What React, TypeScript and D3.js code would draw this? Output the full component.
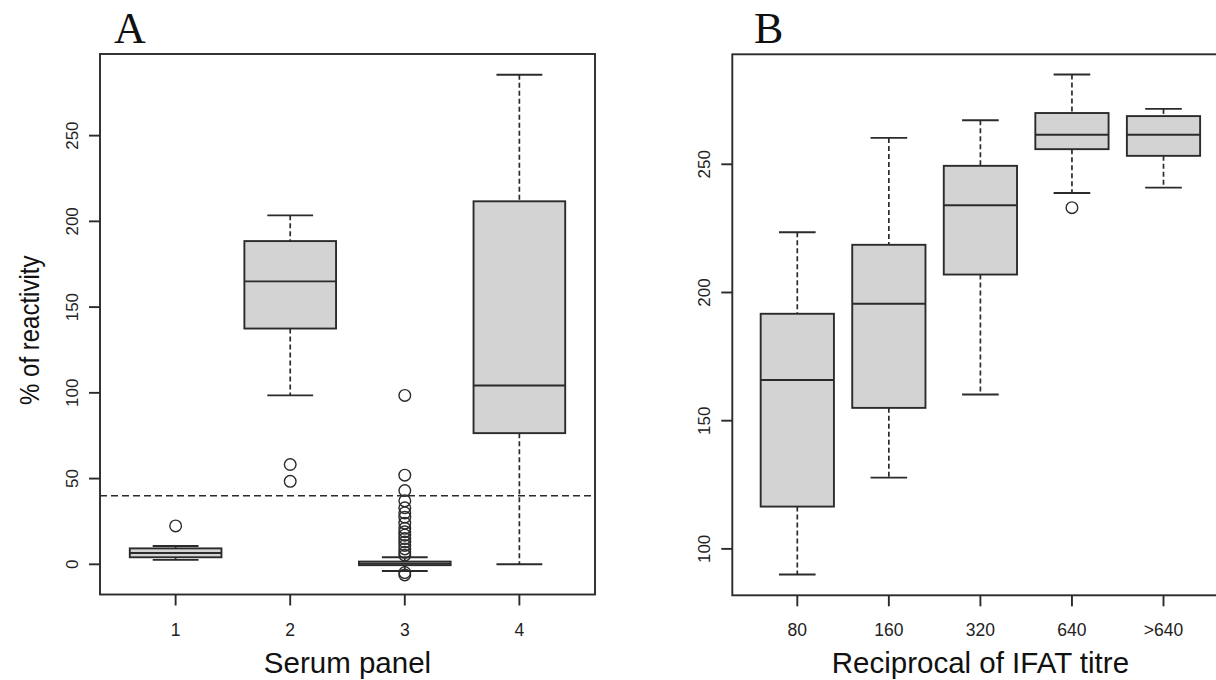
import React from "react";
import * as d3 from "d3";

// ---------- Data ----------
// Panel A: serum panels
const panelACategories = ["1", "2", "3", "4"];
const panelALowWhisker = [2.6, 98.5, -3.9, 0];
const panelAQ1 = [4.1, 137.5, -0.5, 76.5];
const panelAMedian = [6.6, 165, 0.4, 104.3];
const panelAQ3 = [9.3, 188.5, 1.6, 211.7];
const panelAHighWhisker = [10.7, 203.5, 4.1, 285.5];
const panelAOutliers: number[][] = [
  [22.4],
  [58.2, 48.4],
  [98.5, 52, 43, 37, 33, 30, 27.5, 24, 21, 19, 17, 15, 13, 11, 9, 7, 5.3, -4.8, -6.2],
  [],
];
const panelAYTicks = [0, 50, 100, 150, 200, 250];
const cutoffLine = 40;

// Panel B: reciprocal of IFAT titre
const panelBCategories = ["80", "160", "320", "640", ">640"];
const panelBLowWhisker = [90.0, 127.8, 160.2, 238.8, 240.9];
const panelBQ1 = [116.5, 155.0, 207.0, 255.9, 253.3];
const panelBMedian = [165.9, 195.6, 234.0, 261.5, 261.5];
const panelBQ3 = [191.7, 218.6, 249.4, 270.0, 268.8];
const panelBHighWhisker = [223.5, 260.3, 267.2, 285.0, 271.6];
const panelBOutliers: number[][] = [[], [], [], [233.1], []];
const panelBYTicks = [100, 150, 200, 250];

// ---------- Styling ----------
const STROKE = "#2b2b2b";
const FILL = "#d3d3d3";
const SANS = "'Liberation Sans', Arial, Helvetica, sans-serif";
const SERIF = "'Liberation Serif', 'Times New Roman', serif";

type PanelProps = {
  letter: string;
  categories: string[];
  low: number[];
  q1: number[];
  med: number[];
  q3: number[];
  high: number[];
  outliers: number[][];
  yTicks: number[];
  yDomain: [number, number];
  xDomain: [number, number];
  left: number;
  right: number;
  top: number;
  bottom: number;
  xTitle: string;
  yTitle?: string;
  hline?: number;
  letterX: number;
};

function Panel(p: PanelProps) {
  const x = d3.scaleLinear().domain(p.xDomain).range([p.left, p.right]);
  const y = d3.scaleLinear().domain(p.yDomain).range([p.bottom, p.top]);
  const unit = x(2) - x(1);
  const half = unit * 0.4;
  const capHalf = half / 2;
  const tickLen = 11;
  const labelFs = 17.5;
  const titleFs = 29.5;
  const cx = (p.left + p.right) / 2;
  const cy = (p.top + p.bottom) / 2;

  return (
    <g>
      <text x={p.letterX} y={43} fontFamily={SERIF} fontSize={44} fill="#111">
        {p.letter}
      </text>
      {/* frame */}
      <rect
        x={p.left}
        y={p.top}
        width={p.right - p.left}
        height={p.bottom - p.top}
        fill="none"
        stroke={STROKE}
        strokeWidth={1.9}
      />
      {p.hline !== undefined && (
        <line
          x1={p.left}
          x2={p.right}
          y1={y(p.hline)}
          y2={y(p.hline)}
          stroke={STROKE}
          strokeWidth={1.7}
          strokeDasharray="7 4"
        />
      )}
      {/* boxes */}
      {p.categories.map((c, i) => {
        const xc = x(i + 1);
        return (
          <g key={c}>
            <line x1={xc} x2={xc} y1={y(p.high[i])} y2={y(p.q3[i])} stroke={STROKE} strokeWidth={1.7} strokeDasharray="5 3" />
            <line x1={xc} x2={xc} y1={y(p.q1[i])} y2={y(p.low[i])} stroke={STROKE} strokeWidth={1.7} strokeDasharray="5 3" />
            <line x1={xc - capHalf} x2={xc + capHalf} y1={y(p.high[i])} y2={y(p.high[i])} stroke={STROKE} strokeWidth={1.9} />
            <line x1={xc - capHalf} x2={xc + capHalf} y1={y(p.low[i])} y2={y(p.low[i])} stroke={STROKE} strokeWidth={1.9} />
            <rect
              x={xc - half}
              y={y(p.q3[i])}
              width={half * 2}
              height={Math.max(0.5, y(p.q1[i]) - y(p.q3[i]))}
              fill={FILL}
              stroke={STROKE}
              strokeWidth={1.9}
            />
            <line x1={xc - half} x2={xc + half} y1={y(p.med[i])} y2={y(p.med[i])} stroke={STROKE} strokeWidth={1.9} />
            {p.outliers[i].map((v, j) => (
              <circle key={j} cx={xc} cy={y(v)} r={5.8} fill="none" stroke={STROKE} strokeWidth={1.4} />
            ))}
          </g>
        );
      })}
      {/* y axis */}
      {p.yTicks.map((t) => (
        <g key={t}>
          <line x1={p.left - tickLen} x2={p.left} y1={y(t)} y2={y(t)} stroke={STROKE} strokeWidth={1.9} />
          <text
            transform={`translate(${p.left - 22},${y(t)}) rotate(-90)`}
            textAnchor="middle"
            fontFamily={SANS}
            fontSize={17}
            fill="#222"
          >
            {t}
          </text>
        </g>
      ))}
      {/* x axis */}
      {p.categories.map((c, i) => (
        <g key={c}>
          <line x1={x(i + 1)} x2={x(i + 1)} y1={p.bottom} y2={p.bottom + tickLen} stroke={STROKE} strokeWidth={1.9} />
          <text x={x(i + 1)} y={p.bottom + 41} textAnchor="middle" fontFamily={SANS} fontSize={labelFs} fill="#222">
            {c}
          </text>
        </g>
      ))}
      <text x={cx} y={673} textAnchor="middle" fontFamily={SANS} fontSize={titleFs} fill="#111">
        {p.xTitle}
      </text>
      {p.yTitle && (
        <text
          transform={`translate(${p.left - 61},${cy + 6}) rotate(-90) scale(1,1.15)`}
          textAnchor="middle"
          fontFamily={SANS}
          fontSize={24}
          fill="#111"
        >
          {p.yTitle}
        </text>
      )}
    </g>
  );
}

export default function App() {
  return (
    <svg
      width={1216}
      height={680}
      viewBox="0 0 1216 680"
      style={{ position: "absolute", left: 0, top: 0, background: "#fff" }}
    >
      <rect width={1216} height={680} fill="#fff" />
      <Panel
        letter="A"
        categories={panelACategories}
        low={panelALowWhisker}
        q1={panelAQ1}
        med={panelAMedian}
        q3={panelAQ3}
        high={panelAHighWhisker}
        outliers={panelAOutliers}
        yTicks={panelAYTicks}
        yDomain={[-17.6, 297.6]}
        xDomain={[0.34, 4.66]}
        left={100}
        right={595}
        top={54}
        bottom={594.5}
        xTitle="Serum panel"
        yTitle="% of reactivity"
        hline={cutoffLine}
        letterX={114}
      />
      <Panel
        letter="B"
        categories={panelBCategories}
        low={panelBLowWhisker}
        q1={panelBQ1}
        med={panelBMedian}
        q3={panelBQ3}
        high={panelBHighWhisker}
        outliers={panelBOutliers}
        yTicks={panelBYTicks}
        yDomain={[81.9, 292.9]}
        xDomain={[0.29, 5.71]}
        left={732.3}
        right={1228.5}
        top={54.3}
        bottom={595.3}
        xTitle="Reciprocal of IFAT titre"
        letterX={754}
      />
    </svg>
  );
}
